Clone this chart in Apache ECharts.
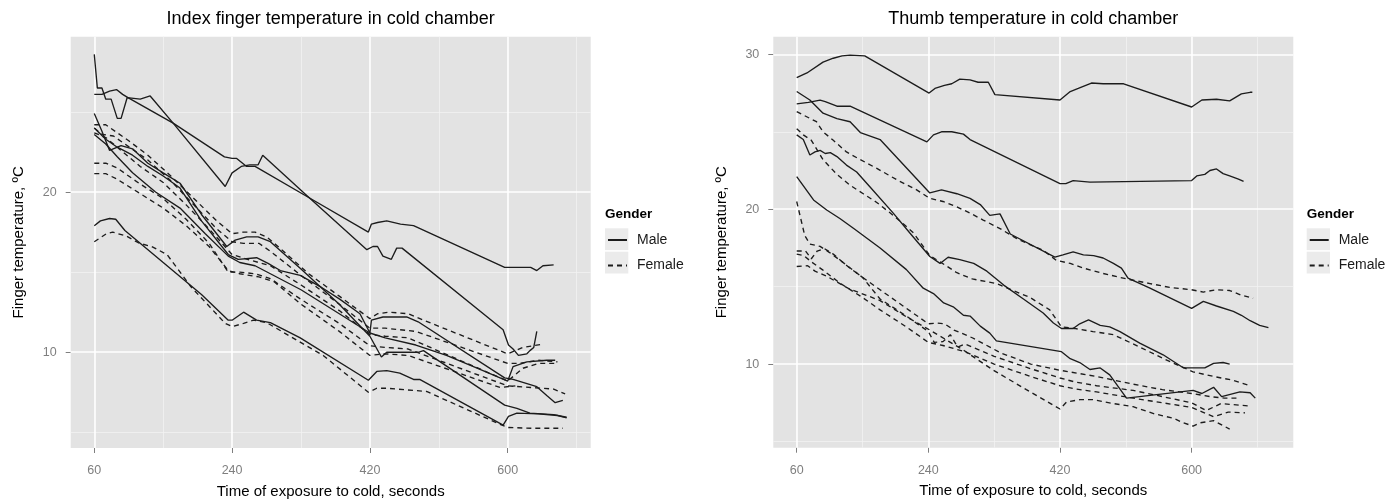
<!DOCTYPE html>
<html>
<head>
<meta charset="utf-8">
<title>Finger temperature in cold chamber</title>
<script src="https://cdn.jsdelivr.net/npm/echarts@6/dist/echarts.min.js"></script>
<style>
  html, body { margin: 0; padding: 0; background: #fff; }
  #chart { width: 1399px; height: 499px; }
</style>
</head>
<body>
<div id="chart"></div>
<script>
// axis ticks: seconds and degrees
const timeTicks = [60, 240, 420, 600];
const timeMinor = [150, 330, 510, 690];
const indexTempTicks = [10, 20];
const indexTempMinor = [5, 15, 25];
const thumbTempTicks = [10, 20, 30];
const thumbTempMinor = [5, 15, 25];
const genders = ['Male', 'Female'];

// index finger, males  [seconds, ºC]
const indexMale1 = [[60,28.6],[64,26.5],[70,26.5],[75,25.8],[82,25.8],[90,24.6],[95,24.6],[103,25.9],[120,25.8],[133,26.0],[163,24.3],[231,20.35],[240,21.2],[252,21.6],[263,21.7],[274,21.7],[280,22.3],[335,19.9],[416,16.4],[424,16.6],[430,16.6],[437,16.0],[448,15.8],[455,16.5],[462,16.5],[594,11.4],[601,10.45],[607,10.2],[614,9.8],[625,9.9],[629,10.1],[634,10.3],[638,11.3]];
const indexMale2 = [[60,26.1],[70,26.1],[80,26.3],[89,26.4],[97,26.1],[104,25.9],[163,24.3],[230,22.2],[240,22.1],[246,22.1],[259,21.6],[270,21.6],[335,19.8],[418,17.5],[422,18.0],[430,18.1],[442,18.2],[460,18.0],[477,17.9],[596,15.3],[610,15.3],[630,15.3],[638,15.1],[646,15.4],[660,15.45]];
const indexMale3 = [[60,24.9],[70,23.8],[80,22.6],[95,22.9],[110,22.7],[130,21.8],[150,21.2],[172,20.55],[200,18.6],[233,16.6],[244,17.0],[259,17.2],[274,17.2],[290,16.9],[330,15.2],[380,13.0],[420,11.0],[435,9.7],[442,10.0],[484,10.0],[490,10.1],[596,6.7],[612,6.5],[629,6.2],[660,6.1],[677,5.94]];
const indexMale4 = [[60,24.0],[75,23.3],[90,22.8],[110,22.3],[130,21.6],[150,21.0],[172,20.25],[200,18.2],[235,16.1],[248,15.8],[272,15.9],[287,15.55],[303,15.1],[329,14.8],[355,14.1],[381,13.3],[407,12.4],[420,11.2],[422,12.0],[437,12.2],[468,12.2],[483,11.9],[596,8.4],[607,8.3],[638,7.85],[651,7.3],[662,6.85],[672,7.0]];
const indexMale5 = [[60,23.6],[75,23.0],[90,22.2],[110,21.2],[140,20.0],[172,19.0],[205,17.4],[235,16.0],[250,15.6],[270,15.4],[290,14.9],[330,13.9],[380,12.4],[420,11.2],[440,10.9],[480,10.45],[520,9.8],[560,9.0],[600,8.2],[607,9.1],[625,9.4],[651,9.5],[662,9.5]];
const indexMale6 = [[60,17.9],[68,18.2],[80,18.35],[88,18.3],[100,17.6],[150,15.6],[200,13.6],[235,12.0],[240,12.0],[255,12.5],[272,12.0],[290,11.85],[329,10.9],[418,8.25],[429,8.8],[442,8.85],[459,8.7],[477,8.3],[485,8.3],[594,5.45],[601,6.0],[612,6.2],[640,6.15],[665,6.05],[677,5.9]];

// index finger, females
const indexFemale1 = [[60,16.9],[76,17.4],[84,17.5],[102,17.25],[119,16.8],[135,16.6],[155,16.1],[186,14.1],[231,11.8],[240,11.6],[255,11.8],[268,12.0],[285,11.85],[359,9.8],[418,7.5],[429,7.75],[442,7.75],[494,7.55],[590,5.5],[601,5.3],[633,5.25],[672,5.25]];
const indexFemale2 = [[60,24.2],[75,24.2],[90,23.7],[105,23.2],[130,22.3],[160,21.0],[190,19.6],[220,18.2],[240,17.4],[255,17.5],[270,17.5],[285,17.2],[300,16.6],[340,14.9],[380,13.5],[420,12.1],[430,12.4],[445,12.5],[470,12.4],[490,12.0],[600,9.9],[620,10.3],[645,10.5]];
const indexFemale3 = [[60,24.0],[70,23.6],[85,23.5],[100,23.0],[130,22.0],[160,20.7],[190,19.2],[220,17.7],[240,16.9],[255,16.8],[275,16.8],[290,16.3],[330,14.8],[380,13.0],[420,11.5],[440,11.5],[480,11.3],[600,9.3],[615,9.3],[640,9.5],[665,9.4]];
const indexFemale4 = [[60,23.7],[75,23.4],[90,22.8],[120,21.6],[150,20.6],[180,19.2],[210,17.7],[240,16.1],[260,15.8],[290,15.4],[330,14.2],[380,12.6],[420,11.1],[440,11.0],[470,10.9],[600,8.2],[620,9.0],[640,9.3],[665,9.3]];
const indexFemale5 = [[60,21.8],[75,21.8],[90,21.5],[120,20.5],[150,19.6],[180,18.3],[210,16.8],[235,15.0],[250,15.0],[270,14.9],[290,14.6],[330,13.3],[380,11.8],[420,10.4],[440,10.3],[470,10.2],[600,7.9],[630,7.8],[660,7.7],[675,7.4]];
const indexFemale6 = [[60,21.15],[75,21.15],[90,20.8],[120,19.9],[150,19.0],[180,17.9],[210,16.6],[235,15.1],[250,14.9],[275,14.7],[295,14.4],[330,13.0],[380,11.3],[420,9.8],[440,9.9],[470,9.8],[590,7.8],[610,7.9]];

// thumb, males
const thumbMale1 = [[60,28.5],[74,28.8],[96,29.5],[110,29.75],[122,29.9],[133,29.95],[153,29.9],[241,27.5],[249,27.8],[262,28.0],[272,28.1],[283,28.4],[297,28.35],[308,28.2],[322,28.2],[331,27.4],[420,27.05],[434,27.6],[445,27.8],[463,28.15],[479,28.1],[507,28.1],[600,26.6],[614,27.05],[634,27.1],[652,27.0],[668,27.45],[680,27.55],[683,27.55]];
const thumbMale2 = [[60,26.8],[76,26.9],[92,27.05],[99,26.95],[115,26.65],[133,26.65],[238,24.35],[247,24.8],[258,25.0],[272,25.0],[288,24.85],[297,24.5],[420,21.65],[428,21.65],[438,21.85],[461,21.75],[600,21.85],[607,22.15],[618,22.25],[625,22.5],[634,22.6],[643,22.3],[652,22.15],[664,21.95],[671,21.8]];
const thumbMale3 = [[60,27.6],[78,27.05],[96,26.2],[115,25.85],[133,25.65],[147,24.95],[174,24.5],[242,21.05],[258,21.25],[279,21.0],[297,20.7],[311,20.3],[324,19.6],[338,19.7],[352,18.4],[413,16.9],[424,17.05],[438,17.25],[452,17.05],[466,17.0],[479,16.85],[493,16.5],[504,16.2],[513,15.55],[543,14.9],[600,13.6],[616,14.05],[634,13.75],[657,13.4],[668,13.15],[680,12.8],[693,12.5],[705,12.35]];
const thumbMale4 = [[60,24.8],[69,24.5],[78,23.5],[85,23.7],[92,23.8],[99,23.6],[106,23.65],[115,23.4],[128,22.85],[142,22.4],[160,21.45],[192,19.75],[215,18.45],[242,16.95],[256,16.5],[267,16.9],[283,16.75],[302,16.5],[320,16.0],[343,15.1],[370,14.2],[397,13.3],[411,12.65],[422,12.3],[438,12.3],[447,12.6],[459,12.85],[475,12.5],[488,12.4],[502,12.1],[529,11.35],[561,10.6],[589,9.75],[600,9.75],[618,9.75],[630,10.05],[643,10.1],[652,10.0]];
const thumbMale5 = [[60,22.1],[83,20.6],[101,19.95],[119,19.4],[138,18.75],[174,17.5],[210,16.1],[233,14.9],[247,14.55],[261,13.95],[274,13.7],[288,13.15],[297,13.1],[311,12.45],[324,12.0],[333,11.5],[422,10.8],[434,10.35],[447,10.1],[461,9.65],[475,9.75],[488,9.3],[511,7.8],[602,8.3],[614,8.1],[630,8.5],[641,7.9],[666,8.2],[680,8.15],[687,7.8]];

// thumb, females
const thumbFemale1 = [[60,26.3],[87,25.65],[96,25.0],[110,24.45],[128,23.7],[147,23.2],[169,22.65],[197,21.9],[224,21.25],[242,20.7],[260,20.5],[279,20.15],[297,19.75],[315,19.3],[338,18.75],[361,18.1],[370,17.9],[397,17.35],[415,16.7],[434,16.5],[452,16.2],[479,15.85],[511,15.5],[543,15.2],[570,14.95],[600,14.8],[616,14.65],[634,14.8],[652,14.75],[668,14.45],[684,14.25]];
const thumbFemale2 = [[60,25.2],[69,24.8],[80,24.45],[96,23.2],[115,22.25],[133,21.55],[151,21.0],[169,20.45],[188,19.75],[206,19.05],[220,18.45],[242,17.0],[256,16.6],[279,15.9],[300,15.5],[333,15.2],[379,14.3],[406,13.5],[422,12.4],[440,12.3],[465,12.1],[493,11.9],[529,11.1],[566,10.25],[602,9.5],[630,9.2],[657,8.95],[680,8.6]];
const thumbFemale3 = [[60,20.5],[65,19.5],[71,18.3],[78,17.75],[92,17.6],[105,17.2],[125,16.5],[150,15.6],[174,14.8],[210,13.6],[240,12.6],[252,12.65],[262,12.6],[275,12.2],[300,11.7],[340,10.7],[380,10.0],[420,9.6],[445,9.4],[470,9.2],[520,8.7],[560,8.35],[600,8.1],[625,7.9],[645,7.8],[666,7.8]];
const thumbFemale4 = [[60,17.3],[72,17.3],[80,16.8],[88,17.3],[98,17.45],[110,17.1],[130,16.3],[150,15.6],[174,14.2],[210,13.1],[240,12.1],[248,11.4],[260,11.45],[270,11.9],[280,11.1],[290,11.3],[330,10.5],[380,9.7],[420,9.1],[440,8.85],[470,8.6],[520,8.3],[560,7.9],[600,7.5],[620,7.0],[640,7.45],[677,7.3]];
const thumbFemale5 = [[60,16.3],[75,16.35],[85,16.0],[100,15.7],[130,14.9],[174,14.1],[210,13.05],[242,12.2],[288,10.9],[329,9.6],[374,8.35],[420,7.1],[429,7.55],[447,7.7],[465,7.7],[493,7.45],[520,7.25],[548,6.8],[575,6.5],[589,6.2],[602,6.0],[611,6.2],[630,6.35],[652,5.8]];
const thumbFemale6 = [[60,17.1],[70,17.0],[80,16.6],[95,16.1],[120,15.2],[150,14.3],[174,13.5],[210,12.4],[240,11.4],[260,11.2],[290,10.8],[330,10.0],[380,9.2],[420,8.6],[440,8.4],[470,8.2],[520,7.8],[560,7.5],[600,7.2],[615,6.9],[630,6.6],[650,6.9],[673,6.85]];

const font = 'Liberation Sans, Arial, sans-serif';
const tickGrey = '#7f7f7f';
const ink = '#1c1c1c';

const chart = echarts.init(document.getElementById('chart'));

function subject(name, data, idx) {
  return {
    type: 'line',
    name: name,
    data: data,
    xAxisIndex: idx,
    yAxisIndex: idx,
    symbol: 'none',
    silent: true,
    z: 3,
    itemStyle: { color: ink },
    lineStyle: {
      color: ink,
      width: 1.35,
      type: name === 'Female' ? [5, 4] : 'solid'
    }
  };
}

// white grid lines of the grey panel (drawn as mark lines on the axes)
function panelGrid(idx, yMajor, yMinor) {
  const major = { color: '#ffffff', width: 1.6, type: 'solid' };
  const minor = { color: '#f3f3f3', width: 0.8, type: 'solid' };
  const lines = []
    .concat(timeMinor.map(v => ({ xAxis: v, lineStyle: minor })))
    .concat(yMinor.map(v => ({ yAxis: v, lineStyle: minor })))
    .concat(timeTicks.map(v => ({ xAxis: v, lineStyle: major })))
    .concat(yMajor.map(v => ({ yAxis: v, lineStyle: major })));
  return {
    type: 'line',
    data: [],
    xAxisIndex: idx,
    yAxisIndex: idx,
    silent: true,
    z: 1,
    markLine: {
      z: 1,
      silent: true,
      animation: false,
      symbol: ['none', 'none'],
      label: { show: false },
      data: lines
    }
  };
}

function timeAxis(idx, min, max) {
  return {
    type: 'value',
    gridIndex: idx,
    min: min,
    max: max,
    name: 'Time of exposure to cold, seconds',
    nameLocation: 'middle',
    nameGap: 36,
    nameTextStyle: { fontFamily: font, fontSize: 15, color: '#000' },
    axisLine: { show: false },
    axisTick: { show: true, customValues: timeTicks, length: 5, lineStyle: { color: tickGrey } },
    axisLabel: { customValues: timeTicks, color: tickGrey, fontFamily: font, fontSize: 12.5, margin: 16 },
    splitLine: { show: false }
  };
}

function tempAxis(idx, min, max, ticks) {
  return {
    type: 'value',
    gridIndex: idx,
    min: min,
    max: max,
    name: 'Finger temperature, ºC',
    nameLocation: 'middle',
    nameGap: 44,
    nameTextStyle: { fontFamily: font, fontSize: 15, color: '#000' },
    axisLine: { show: false },
    axisTick: { show: true, customValues: ticks, length: 5, lineStyle: { color: tickGrey } },
    axisLabel: { customValues: ticks, color: tickGrey, fontFamily: font, fontSize: 12.5, margin: 14 },
    splitLine: { show: false }
  };
}

function genderLegend(x) {
  return {
    data: genders,
    orient: 'vertical',
    left: x + 2,
    top: 233,
    padding: 0,
    itemWidth: 19,
    itemHeight: 12,
    itemGap: 11.5,
    selectedMode: false,
    itemStyle: { opacity: 0 },
    textStyle: { fontFamily: font, fontSize: 14, color: '#1a1a1a', padding: [0, 0, 0, 5] }
  };
}

function keyBoxes(x) {
  return [228.3, 251.7].map(y => ({
    type: 'rect',
    left: x,
    top: y,
    z: 0,
    shape: { width: 23.3, height: 21.8 },
    style: { fill: '#ebebeb' }
  }));
}

const series = [panelGrid(0, indexTempTicks, indexTempMinor), panelGrid(1, thumbTempTicks, thumbTempMinor)];
[indexMale1, indexMale2, indexMale3, indexMale4, indexMale5, indexMale6].forEach(d => series.push(subject('Male', d, 0)));
[indexFemale1, indexFemale2, indexFemale3, indexFemale4, indexFemale5, indexFemale6].forEach(d => series.push(subject('Female', d, 0)));
[thumbMale1, thumbMale2, thumbMale3, thumbMale4, thumbMale5].forEach(d => series.push(subject('Male', d, 1)));
[thumbFemale1, thumbFemale2, thumbFemale3, thumbFemale4, thumbFemale5, thumbFemale6].forEach(d => series.push(subject('Female', d, 1)));

const titleStyle = { fontFamily: font, fontSize: 18, fontWeight: 'normal', color: '#000' };
const legendTitleStyle = { fontFamily: font, fontSize: 13.5, fontWeight: 'bold', color: '#000' };

chart.setOption({
  animation: false,
  backgroundColor: '#ffffff',
  title: [
    { text: 'Index finger temperature in cold chamber', left: 330.7, top: 10, padding: 0, textAlign: 'center', textStyle: titleStyle },
    { text: 'Thumb temperature in cold chamber', left: 1033.3, top: 10, padding: 0, textAlign: 'center', textStyle: titleStyle },
    { text: 'Gender', left: 605, top: 207, padding: 0, textStyle: legendTitleStyle },
    { text: 'Gender', left: 1306.7, top: 207, padding: 0, textStyle: legendTitleStyle }
  ],
  legend: [genderLegend(605), genderLegend(1306.7)],
  graphic: keyBoxes(605).concat(keyBoxes(1306.7)),
  grid: [
    { left: 70.7, top: 36.7, width: 520, height: 411.3, outerBoundsMode: 'none', show: true, backgroundColor: '#e3e3e3', borderWidth: 0 },
    { left: 773.3, top: 36.7, width: 520, height: 411, outerBoundsMode: 'none', show: true, backgroundColor: '#e3e3e3', borderWidth: 0 }
  ],
  xAxis: [timeAxis(0, 29.2, 708.4), timeAxis(1, 28, 739)],
  yAxis: [tempAxis(0, 4.02, 29.7, indexTempTicks), tempAxis(1, 4.6, 31.14, thumbTempTicks)],
  series: series
});
</script>
</body>
</html>
